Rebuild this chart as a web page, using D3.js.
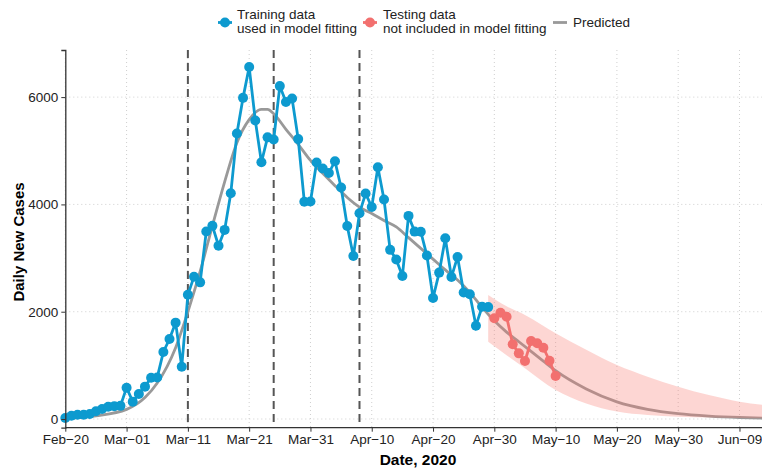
<!DOCTYPE html>
<meta charset="utf-8">
<script src="https://d3js.org/d3.v7.min.js"></script>
<style>
  body { margin: 0; background: #fff; }
  text { font-family: "Liberation Sans", Arial, sans-serif; }
</style>
<div id="chart"></div>
<script>

// daily new cases used for fitting, one per day from Feb-20
var trainStart = "2020-02-20";
var training = [20, 60, 80, 78, 95, 145, 185, 230, 240, 245,
  584, 323, 466, 603, 770, 775, 1250, 1490, 1796, 975,
  2315, 2653, 2547, 3495, 3600, 3231, 3525, 4207, 5322, 5986,
  6560, 5565, 4785, 5250, 5210, 6205, 5910, 5975, 5217, 4050,
  4053, 4782, 4668, 4585, 4805, 4316, 3599, 3039, 3836, 4204,
  3951, 4694, 4092, 3153, 2972, 2667, 3786, 3493, 3491, 3047,
  2256, 2729, 3370, 2646, 3021, 2357, 2324, 1739, 2091, 2086];

// held-out days, from Apr-30
var testStart = "2020-04-30";
var testing = [1877, 1981, 1907, 1392, 1224, 1081, 1454, 1411, 1329, 1087, 801];

// fitted curve
var predDates = ["2020-02-20", "2020-02-25", "2020-03-01", "2020-03-04", "2020-03-06", "2020-03-09",
  "2020-03-11", "2020-03-13", "2020-03-15", "2020-03-17", "2020-03-19", "2020-03-21", "2020-03-23",
  "2020-03-24", "2020-03-25", "2020-03-27", "2020-03-29", "2020-03-31", "2020-04-02", "2020-04-04",
  "2020-04-06", "2020-04-08", "2020-04-10", "2020-04-12", "2020-04-14", "2020-04-16", "2020-04-18",
  "2020-04-20", "2020-04-22", "2020-04-24", "2020-04-26", "2020-04-28", "2020-04-30", "2020-05-02",
  "2020-05-04", "2020-05-06", "2020-05-08", "2020-05-10", "2020-05-15", "2020-05-20", "2020-05-25",
  "2020-05-30", "2020-06-04", "2020-06-09", "2020-06-13"];
var predValues = [15, 60, 180, 400, 670, 1330,
  2000, 2750, 3600, 4420, 5150, 5580, 5770,
  5770, 5690, 5400, 5120, 4820, 4580, 4350,
  4130, 3950, 3830, 3700, 3580, 3380, 3180,
  2980, 2780, 2590, 2360, 2080, 1830, 1620,
  1440, 1260, 1080, 900, 560, 320, 180,
  100, 55, 28, 16];

// prediction interval
var bandDates = ["2020-04-29", "2020-05-02", "2020-05-05", "2020-05-10", "2020-05-15", "2020-05-20",
  "2020-05-25", "2020-05-30", "2020-06-04", "2020-06-09", "2020-06-13"];
var bandLow = [1440, 1190, 945, 540, 290, 140, 75, 44, 30, 20, 15];
var bandHigh = [2310, 2100, 1940, 1600, 1290, 1006, 790, 603, 447, 323, 261];

var policyDates = ["2020-03-11", "2020-03-25", "2020-04-08"];
var xTicks = ["2020-02-20", "2020-03-01", "2020-03-11", "2020-03-21", "2020-03-31", "2020-04-10",
  "2020-04-20", "2020-04-30", "2020-05-10", "2020-05-20", "2020-05-30", "2020-06-09"];
var yTicks = [0, 2000, 4000, 6000];

var blue = "#0d9acf", red = "#f2706f", grey = "#999999";

var width = 762, height = 468;
var margin = {top: 50, right: 0, bottom: 40.3, left: 65.3};

var parse = d3.utcParse("%Y-%m-%d");
var fmt = d3.utcFormat("%b-%d");

var svg = d3.select("#chart").append("svg")
  .attr("width", width).attr("height", height);

var x = d3.scaleUtc()
  .domain([parse("2020-02-20"), parse("2020-06-13")])
  .range([margin.left, 764]);
var y = d3.scaleLinear()
  .domain([-162, 6878])
  .range([height - margin.bottom, margin.top]);

var train = training.map((v, i) => ({date: d3.utcDay.offset(parse(trainStart), i), val: v}));
var test = testing.map((v, i) => ({date: d3.utcDay.offset(parse(testStart), i), val: v}));
var pred = predDates.map((d, i) => ({date: parse(d), val: predValues[i]}));
var band = bandDates.map((d, i) => ({date: parse(d), lo: bandLow[i], hi: bandHigh[i]}));

// grid
var grid = svg.append("g");
grid.selectAll(".gx").data(xTicks).enter().append("line")
  .attr("x1", d => x(parse(d))).attr("x2", d => x(parse(d)))
  .attr("y1", margin.top).attr("y2", height - margin.bottom)
  .attr("stroke", "#cfcfcf").attr("stroke-dasharray", "1,3");
grid.selectAll(".gy").data(yTicks).enter().append("line")
  .attr("x1", margin.left).attr("x2", width)
  .attr("y1", d => y(d)).attr("y2", d => y(d))
  .attr("stroke", "#cfcfcf").attr("stroke-dasharray", "1,3");

// policy dates
svg.selectAll(".vl").data(policyDates).enter().append("line")
  .attr("x1", d => x(parse(d))).attr("x2", d => x(parse(d)))
  .attr("y1", margin.top).attr("y2", height - margin.bottom)
  .attr("stroke", "#555").attr("stroke-width", 2).attr("stroke-dasharray", "8,5");

var line = d3.line().x(d => x(d.date)).y(d => y(d.val));

svg.append("path").datum(pred)
  .attr("d", line.curve(d3.curveMonotoneX))
  .attr("fill", "none").attr("stroke", grey).attr("stroke-width", 2.8);

svg.append("path").datum(band)
  .attr("d", d3.area().curve(d3.curveMonotoneX)
    .x(d => x(d.date)).y0(d => y(d.lo)).y1(d => y(d.hi)))
  .attr("fill", "#f8766d").attr("fill-opacity", 0.3);

var line2 = d3.line().x(d => x(d.date)).y(d => y(d.val));

svg.append("path").datum(train).attr("d", line2)
  .attr("fill", "none").attr("stroke", blue).attr("stroke-width", 2.8);
svg.selectAll(".tr").data(train).enter().append("circle")
  .attr("cx", d => x(d.date)).attr("cy", d => y(d.val)).attr("r", 5).attr("fill", blue);

svg.append("path").datum(test).attr("d", line2)
  .attr("fill", "none").attr("stroke", red).attr("stroke-width", 2.8);
svg.selectAll(".te").data(test).enter().append("circle")
  .attr("cx", d => x(d.date)).attr("cy", d => y(d.val)).attr("r", 5).attr("fill", red);

// axes
var xAxis = svg.append("g")
  .attr("transform", "translate(0," + (height - margin.bottom) + ")")
  .call(d3.axisBottom(x).tickValues(xTicks.map(parse))
    .tickFormat(d => fmt(d).replace("-", "\u2212")).tickSize(4).tickPadding(3));
var yAxis = svg.append("g")
  .attr("transform", "translate(" + margin.left + ",0)")
  .call(d3.axisLeft(y).tickValues(yTicks).tickFormat(d3.format("d")).tickSize(4).tickPadding(3));

[xAxis, yAxis].forEach(a => {
  a.select(".domain").attr("stroke", "#333").attr("stroke-width", 1.3);
  a.selectAll(".tick line").attr("stroke", "#333");
  a.selectAll(".tick text").attr("fill", "#222").style("font-size", "13.5px");
});
xAxis.select(".domain").attr("d", "M" + margin.left + ",0H" + width);

svg.append("text")
  .attr("x", 418).attr("y", 465)
  .attr("text-anchor", "middle").style("font-weight", "bold").style("font-size", "15.5px")
  .text("Date, 2020");
svg.append("text")
  .attr("transform", "translate(24,242) rotate(-90)")
  .attr("text-anchor", "middle").style("font-weight", "bold").style("font-size", "15px")
  .text("Daily New Cases");

// legend
var leg = svg.append("g").style("font-size", "13.5px").attr("fill", "#222");
leg.append("line").attr("x1", 218).attr("x2", 232).attr("y1", 22.5).attr("y2", 22.5)
  .attr("stroke", blue).attr("stroke-width", 2.8);
leg.append("circle").attr("cx", 225).attr("cy", 22.5).attr("r", 5).attr("fill", blue);
leg.append("text").attr("x", 237).attr("y", 19).text("Training data");
leg.append("text").attr("x", 237).attr("y", 33).text("used in model fitting");

leg.append("line").attr("x1", 363).attr("x2", 377).attr("y1", 22.5).attr("y2", 22.5)
  .attr("stroke", red).attr("stroke-width", 2.8);
leg.append("circle").attr("cx", 370).attr("cy", 22.5).attr("r", 5).attr("fill", red);
leg.append("text").attr("x", 383).attr("y", 19).text("Testing data");
leg.append("text").attr("x", 383).attr("y", 33).text("not included in model fitting");

leg.append("line").attr("x1", 553).attr("x2", 567).attr("y1", 22.5).attr("y2", 22.5)
  .attr("stroke", grey).attr("stroke-width", 2.8);
leg.append("text").attr("x", 573).attr("y", 27).text("Predicted");

</script>
